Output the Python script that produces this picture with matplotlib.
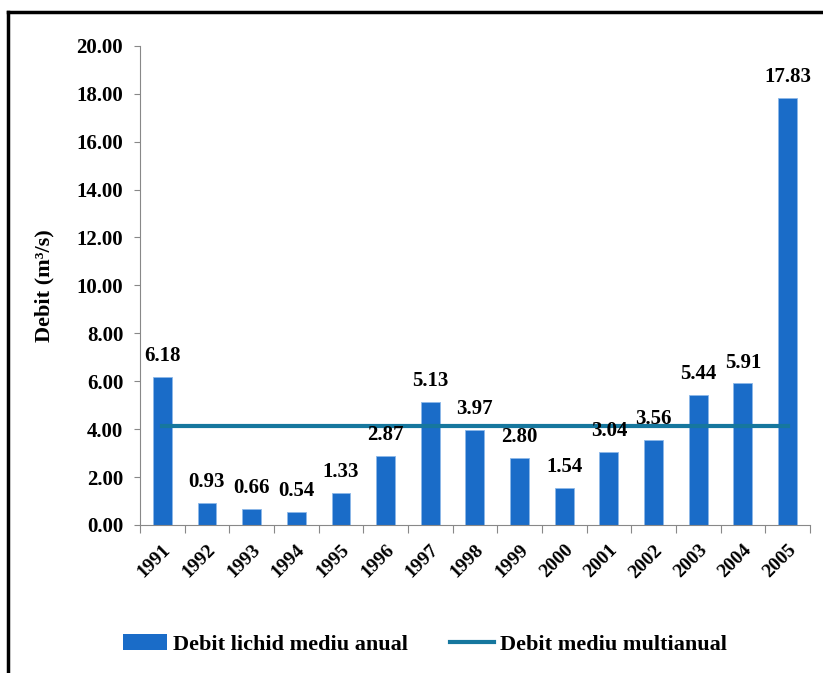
import matplotlib.pyplot as plt
from matplotlib.lines import Line2D
from matplotlib.patches import Patch

years = ["1991", "1992", "1993", "1994", "1995", "1996", "1997", "1998",
         "1999", "2000", "2001", "2002", "2003", "2004", "2005"]
debit = [6.18, 0.93, 0.66, 0.54, 1.33, 2.87, 5.13, 3.97,
         2.80, 1.54, 3.04, 3.56, 5.44, 5.91, 17.83]
debit_mediu = 4.12

bar_color = "#1A6CC8"
line_color = "#16779E"
font = "Liberation Serif"

fig = plt.figure(figsize=(8.23, 6.73), dpi=100)
ax = fig.add_axes([0.170, 0.220, 0.814, 0.712])

x = list(range(len(years)))
ax.bar(x, debit, width=0.42, color=bar_color, edgecolor="#8DB8E8", linewidth=0.6, zorder=2)
ax.plot([x[0], x[-1]], [debit_mediu, debit_mediu], color=line_color, linewidth=3, zorder=3)

# value labels above the bars
for xi, v in zip(x, debit):
    ax.text(xi, v + 0.45, f"{v:.2f}", ha="center", va="bottom", fontsize=15,
            fontweight="bold", family=font)

ax.set_xlim(-0.5, len(years) - 0.5)
ax.set_ylim(0, 20)
ax.set_yticks([0, 2, 4, 6, 8, 10, 12, 14, 16, 18, 20])
ax.set_yticklabels([f"{t:.2f}" for t in ax.get_yticks()], fontsize=15,
                   fontweight="bold", family=font)
ax.set_xticks([i - 0.5 for i in range(len(years) + 1)], minor=False)
ax.set_xticklabels([])
ax.set_xticks(x, minor=True)
ax.set_xticklabels(years, minor=True, rotation=45, ha="right", va="top",
                   rotation_mode="anchor", fontsize=14, fontweight="bold", family=font)
ax.tick_params(axis="x", which="minor", length=0, pad=12)
ax.tick_params(axis="x", which="major", length=6, color="#888888", direction="out")
ax.tick_params(axis="y", length=4, color="#888888", pad=8)

for side in ["top", "right"]:
    ax.spines[side].set_visible(False)
ax.spines["left"].set_color("#888888")
ax.spines["bottom"].set_color("#888888")

ax.set_ylabel("Debit (m³/s)", fontsize=16, fontweight="bold", family=font, labelpad=16)

handles = [Patch(facecolor=bar_color, label="Debit lichid mediu anual"),
           Line2D([0], [0], color=line_color, linewidth=3, label="Debit mediu multianual")]
fig.legend(handles=handles, loc="center", bbox_to_anchor=(0.516, 0.042), ncol=2,
           frameon=False, prop={"family": font, "weight": "bold", "size": 16},
           handlelength=2.0, handletextpad=0.25, columnspacing=1.9)

# outer frame (top and left only)
fig.add_artist(Line2D([8 / 823, 8 / 823], [0, 1 - 12 / 673], color="black", linewidth=2.5,
                      transform=fig.transFigure))
fig.add_artist(Line2D([8 / 823, 1], [1 - 12 / 673, 1 - 12 / 673], color="black", linewidth=2.5,
                      transform=fig.transFigure))

fig.savefig("out.png", dpi=100)
